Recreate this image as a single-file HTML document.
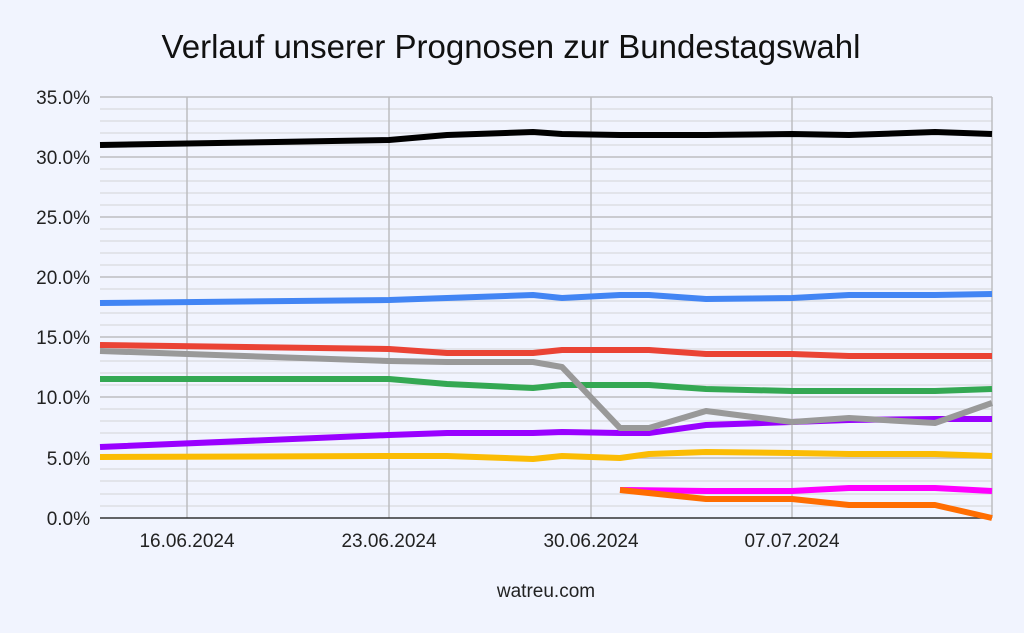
<!DOCTYPE html>
<html><head><meta charset="utf-8"><style>
body{margin:0;background:#f1f4fe;}
svg{display:block;font-family:"Liberation Sans",Arial,sans-serif;}
</style></head><body>
<svg width="1024" height="633" viewBox="0 0 1024 633">
<rect width="1024" height="633" fill="#f1f4fe"/>
<text x="511" y="58" font-size="33" text-anchor="middle" fill="#111">Verlauf unserer Prognosen zur Bundestagswahl</text>
<g stroke="#d9d9dd" stroke-width="1.2">
<line x1="100" x2="992" y1="109" y2="109"/><line x1="100" x2="992" y1="121" y2="121"/><line x1="100" x2="992" y1="133" y2="133"/><line x1="100" x2="992" y1="145" y2="145"/>
<line x1="100" x2="992" y1="169" y2="169"/><line x1="100" x2="992" y1="181" y2="181"/><line x1="100" x2="992" y1="193" y2="193"/><line x1="100" x2="992" y1="205" y2="205"/>
<line x1="100" x2="992" y1="229" y2="229"/><line x1="100" x2="992" y1="241" y2="241"/><line x1="100" x2="992" y1="253" y2="253"/><line x1="100" x2="992" y1="265" y2="265"/>
<line x1="100" x2="992" y1="289" y2="289"/><line x1="100" x2="992" y1="301" y2="301"/><line x1="100" x2="992" y1="313" y2="313"/><line x1="100" x2="992" y1="325" y2="325"/>
<line x1="100" x2="992" y1="349" y2="349"/><line x1="100" x2="992" y1="361" y2="361"/><line x1="100" x2="992" y1="373" y2="373"/><line x1="100" x2="992" y1="385" y2="385"/>
<line x1="100" x2="992" y1="409" y2="409"/><line x1="100" x2="992" y1="421" y2="421"/><line x1="100" x2="992" y1="433" y2="433"/><line x1="100" x2="992" y1="445" y2="445"/>
<line x1="100" x2="992" y1="469" y2="469"/><line x1="100" x2="992" y1="481" y2="481"/><line x1="100" x2="992" y1="494" y2="494"/><line x1="100" x2="992" y1="506" y2="506"/>
</g>
<g stroke="#bdbdc0" stroke-width="1.5">
<line x1="100" x2="992" y1="97" y2="97"/><line x1="100" x2="992" y1="157" y2="157"/><line x1="100" x2="992" y1="217" y2="217"/><line x1="100" x2="992" y1="277" y2="277"/><line x1="100" x2="992" y1="337" y2="337"/><line x1="100" x2="992" y1="397" y2="397"/><line x1="100" x2="992" y1="458" y2="458"/>
<line x1="187" x2="187" y1="97" y2="518"/><line x1="389" x2="389" y1="97" y2="518"/><line x1="591" x2="591" y1="97" y2="518"/><line x1="792" x2="792" y1="97" y2="518"/><line x1="992" x2="992" y1="97" y2="518"/>
</g>
<line x1="100" x2="992" y1="518" y2="518" stroke="#333" stroke-width="1.5"/>
<g font-size="19" fill="#222" text-anchor="end">
<text x="90" y="104">35.0%</text><text x="90" y="164">30.0%</text><text x="90" y="224">25.0%</text><text x="90" y="284">20.0%</text><text x="90" y="344">15.0%</text><text x="90" y="404">10.0%</text><text x="90" y="465">5.0%</text><text x="90" y="525">0.0%</text>
</g>
<g font-size="19" fill="#222" text-anchor="middle">
<text x="187" y="547">16.06.2024</text><text x="389" y="547">23.06.2024</text><text x="591" y="547">30.06.2024</text><text x="792" y="547">07.07.2024</text>
<text x="546" y="597">watreu.com</text>
</g>
<g fill="none" stroke-width="6" stroke-linejoin="round">
<polyline stroke="#000" points="100,145 389,140 447,135 533,132 562,134 620,135 706,135 792,134 849,135 935,132 992,134"/>
<polyline stroke="#4285f4" points="100,303 389,300 447,298 533,295 562,298 620,295 649,295 706,299 792,298 849,295 935,295 992,294"/>
<polyline stroke="#ea4335" points="100,345 389,349 447,353 533,353 562,350 649,350 706,354 792,354 849,356 992,356"/>
<polyline stroke="#34a853" points="100,379 389,379 447,384 533,388 562,385 649,385 706,389 792,391 849,391 935,391 992,389"/>
<polyline stroke="#9900ff" points="100,447 389,435 447,433 533,433 562,432 620,433 649,433 706,425 792,422 849,420 935,419 992,419"/>
<polyline stroke="#999" points="100,351 389,361 447,362 533,362 562,367 620,428 649,428 706,411 792,422 849,418 935,423 992,403"/>
<polyline stroke="#fbbc04" points="100,457 389,456 447,456 533,459 562,456 620,458 649,454 706,452 792,453 849,454 935,454 992,456"/>
<polyline stroke="#ff00ff" points="620,490 706,491 792,491 849,488 935,488 992,491"/>
<polyline stroke="#ff6d01" points="620,490 706,499 792,499 849,505 935,505 992,518"/>
</g>
</svg>
</body></html>
